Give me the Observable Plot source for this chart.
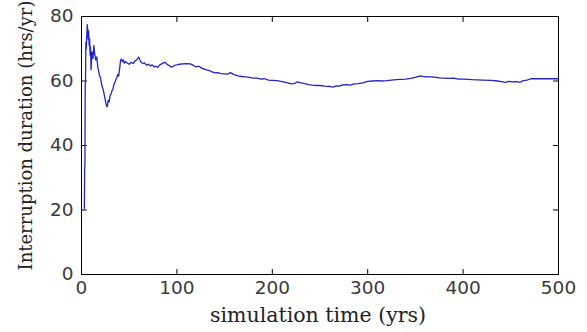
<!DOCTYPE html>
<html>
<head>
<meta charset="utf-8">
<script src="https://cdn.jsdelivr.net/npm/d3@7"></script>
<script src="https://cdn.jsdelivr.net/npm/@observablehq/plot@0.6"></script>
<style>
  html, body { margin: 0; padding: 0; background: #fff; }
</style>
</head>
<body>
<div id="chart"></div>
<script>
const years = [3,3.3,3.6,3.9,4.2,4.6,5,6,6.5,7,7.5,8,8.5,9,9.5,10,11,12,13,14,15,16,17,18,19,20,21,22,23,24,25,26,27,28,29,30,31,32,33,34,35,36,37,38,39,40,41,42,43,44,45,46,48,50,52,54,56,58,60,62,64,66,68,70,72,74,76,78,80,82,84,86,88,90,92,94,96,98,100,103,106,110,114,117,120,123,126,130,134,137,140,143,146,150,153,156,160,164,168,172,176,180,184,188,192,196,200,205,210,215,220,223,226,230,234,238,242,246,250,255,260,264,267,270,274,278,282,286,290,295,300,305,310,315,320,325,330,335,340,345,350,355,358,362,366,370,375,380,385,390,395,400,405,410,420,430,436,440,444,448,452,456,460,463,467,471,480,490,500];
const durations = [20.5,33,34,58,60,72,70,77.5,76,73,75.5,71,73,68,70.5,63.5,69,67,71,68,66.5,67.5,64.5,63,61.5,61,59,58,57,55.5,54,52.5,52,54,53.5,55.5,56,57,57.5,59,59.5,60.5,61,62,61.5,64,66.5,66.8,66,66.5,65.5,66,65.6,65.2,65.8,65.4,66.2,66.6,67.4,66,65.4,65.6,64.9,65.2,64.7,65,64.4,64.6,64.2,65,65.3,65.6,65.8,65.1,64.8,64.3,64.5,64.9,65,65.2,65.3,65.4,65.3,64.9,64.4,64.6,64,63.5,63.2,62.8,62.5,62.6,62.3,62.2,62.1,62.6,62,61.6,61.4,61.3,61.1,60.9,60.9,60.6,60.7,60.3,60.2,60.1,59.8,59.5,59.1,59.2,59.7,59.4,59.2,58.9,58.7,58.6,58.6,58.4,58.3,58.1,58.5,58.4,58.8,58.9,58.7,59.1,59.2,59.4,59.9,60,60.1,60,60.1,60.3,60.4,60.5,60.6,60.8,61.1,61.6,61.4,61.3,61.3,61.2,61,60.9,60.8,60.9,60.6,60.6,60.5,60.4,60.3,60.2,60,59.8,59.6,59.9,59.7,59.8,59.6,60.1,60.3,60.7,60.7,60.7,60.7];
const xTicks = [0, 100, 200, 300, 400, 500];
const yTicks = [0, 20, 40, 60, 80];
const xLabel = "simulation time (yrs)";
const yLabel = "Interruption duration (hrs/yr)";

const data = years.map((t, i) => ({t, v: durations[i]}));

const tickFont = {fontFamily: "'DejaVu Sans', sans-serif", fontSize: 18.5, fill: "#3a3a3a"};
const labelFont = "'DejaVu Serif', serif";

// a plain stroke used as an inward tick
const spike = {draw(context, l) { context.moveTo(0, 0); context.lineTo(0, -l); }};
const inTick = (ticks, channel, anchor, rotate) =>
  Plot.vector(ticks, {[channel]: d => d, frameAnchor: anchor, length: 5, rotate, anchor: "start", shape: spike, stroke: "#000", strokeWidth: 1});

const chart = Plot.plot({
  width: 587,
  height: 332,
  marginLeft: 81,
  marginRight: 29,
  marginTop: 16,
  marginBottom: 58,
  style: {background: "#fff", fontFamily: labelFont, fontSize: "17px", color: "#222"},
  x: {domain: [0, 500]},
  y: {domain: [0, 80]},
  marks: [
    Plot.frame({stroke: "#000", strokeWidth: 1}),
    Plot.axisX(xTicks, {anchor: "bottom", tickSize: 0, tickPadding: 6, ...tickFont, label: null}),
    Plot.axisY(yTicks, {anchor: "left", tickSize: 0, tickPadding: 8, ...tickFont, label: null}),
    inTick(xTicks, "x", "bottom", 0),
    inTick(xTicks, "x", "top", 180),
    inTick(yTicks, "y", "left", 90),
    inTick(yTicks, "y", "right", -90),
    Plot.text([xLabel], {frameAnchor: "bottom", dx: -2, dy: 47, lineAnchor: "bottom", textAnchor: "middle", fontFamily: labelFont, fontSize: 20.5, fill: "#222"}),
    Plot.text([yLabel], {frameAnchor: "left", dx: -55, dy: -10, rotate: -90, lineAnchor: "middle", textAnchor: "middle", fontFamily: labelFont, fontSize: 18, fill: "#222"}),
    Plot.line(data, {x: "t", y: "v", stroke: "#2424c4", strokeWidth: 1.3})
  ]
});
document.getElementById("chart").appendChild(chart);
</script>
</body>
</html>
